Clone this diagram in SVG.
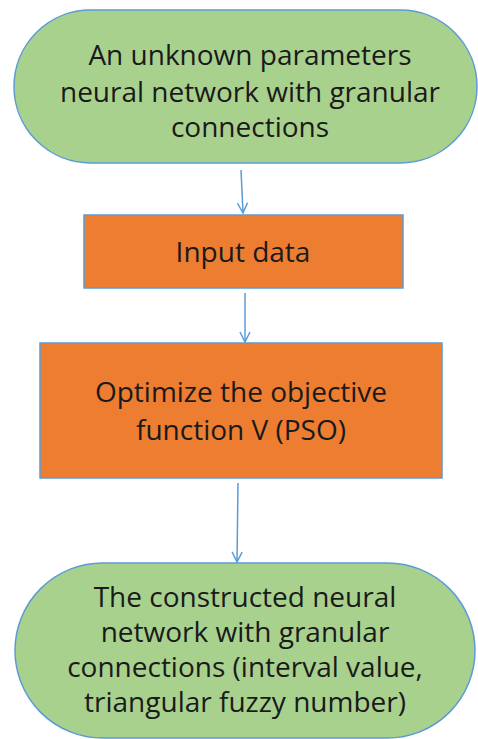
<svg xmlns="http://www.w3.org/2000/svg" width="478" height="739" viewBox="0 0 478 739">
<defs>
<style>
.term{fill:#A9D18E;stroke:#5B9BD5;stroke-width:1.5}
.proc{fill:#ED7D31;stroke:#5B9BD5;stroke-width:1.5}
.lbl{font-family:"Open Sans","Liberation Sans",sans-serif;font-size:28px;fill:#1a1a1a;text-anchor:middle}
.conn{stroke:#5B9BD5;stroke-width:1.5;fill:none;marker-end:url(#arr)}
</style>
<marker id="arr" viewBox="0 0 12 12" refX="11" refY="6" markerWidth="12" markerHeight="12" markerUnits="userSpaceOnUse" orient="auto">
<path d="M1,1 L11,6 L1,11" fill="none" stroke="#5B9BD5" stroke-width="1.5"/>
</marker>
</defs>
<rect width="478" height="739" fill="#ffffff"/>
<g id="connectors">
<line class="conn" x1="241" y1="170" x2="243" y2="213"/>
<line class="conn" x1="245" y1="293" x2="245" y2="342"/>
<line class="conn" x1="238" y1="483" x2="237" y2="562"/>
</g>
<g id="node-start">
<rect class="term" x="14" y="10" width="463" height="153" rx="76.5" ry="76.5"/>
<text class="lbl" x="250" y="65">An unknown parameters</text>
<text class="lbl" x="250" y="102">neural network with granular</text>
<text class="lbl" x="250" y="137">connections</text>
</g>
<g id="node-input">
<rect class="proc" x="84" y="215" width="319" height="73"/>
<text class="lbl" x="243" y="262">Input data</text>
</g>
<g id="node-optimize">
<rect class="proc" x="40" y="343" width="402" height="135"/>
<text class="lbl" x="241" y="402">Optimize the objective</text>
<text class="lbl" x="241" y="440">function V (PSO)</text>
</g>
<g id="node-end">
<rect class="term" x="15" y="563" width="460" height="175" rx="87.5" ry="87.5"/>
<text class="lbl" x="245" y="607">The constructed neural</text>
<text class="lbl" x="245" y="642">network with granular</text>
<text class="lbl" x="245" y="677">connections (interval value,</text>
<text class="lbl" x="245" y="712">triangular fuzzy number)</text>
</g>
</svg>
